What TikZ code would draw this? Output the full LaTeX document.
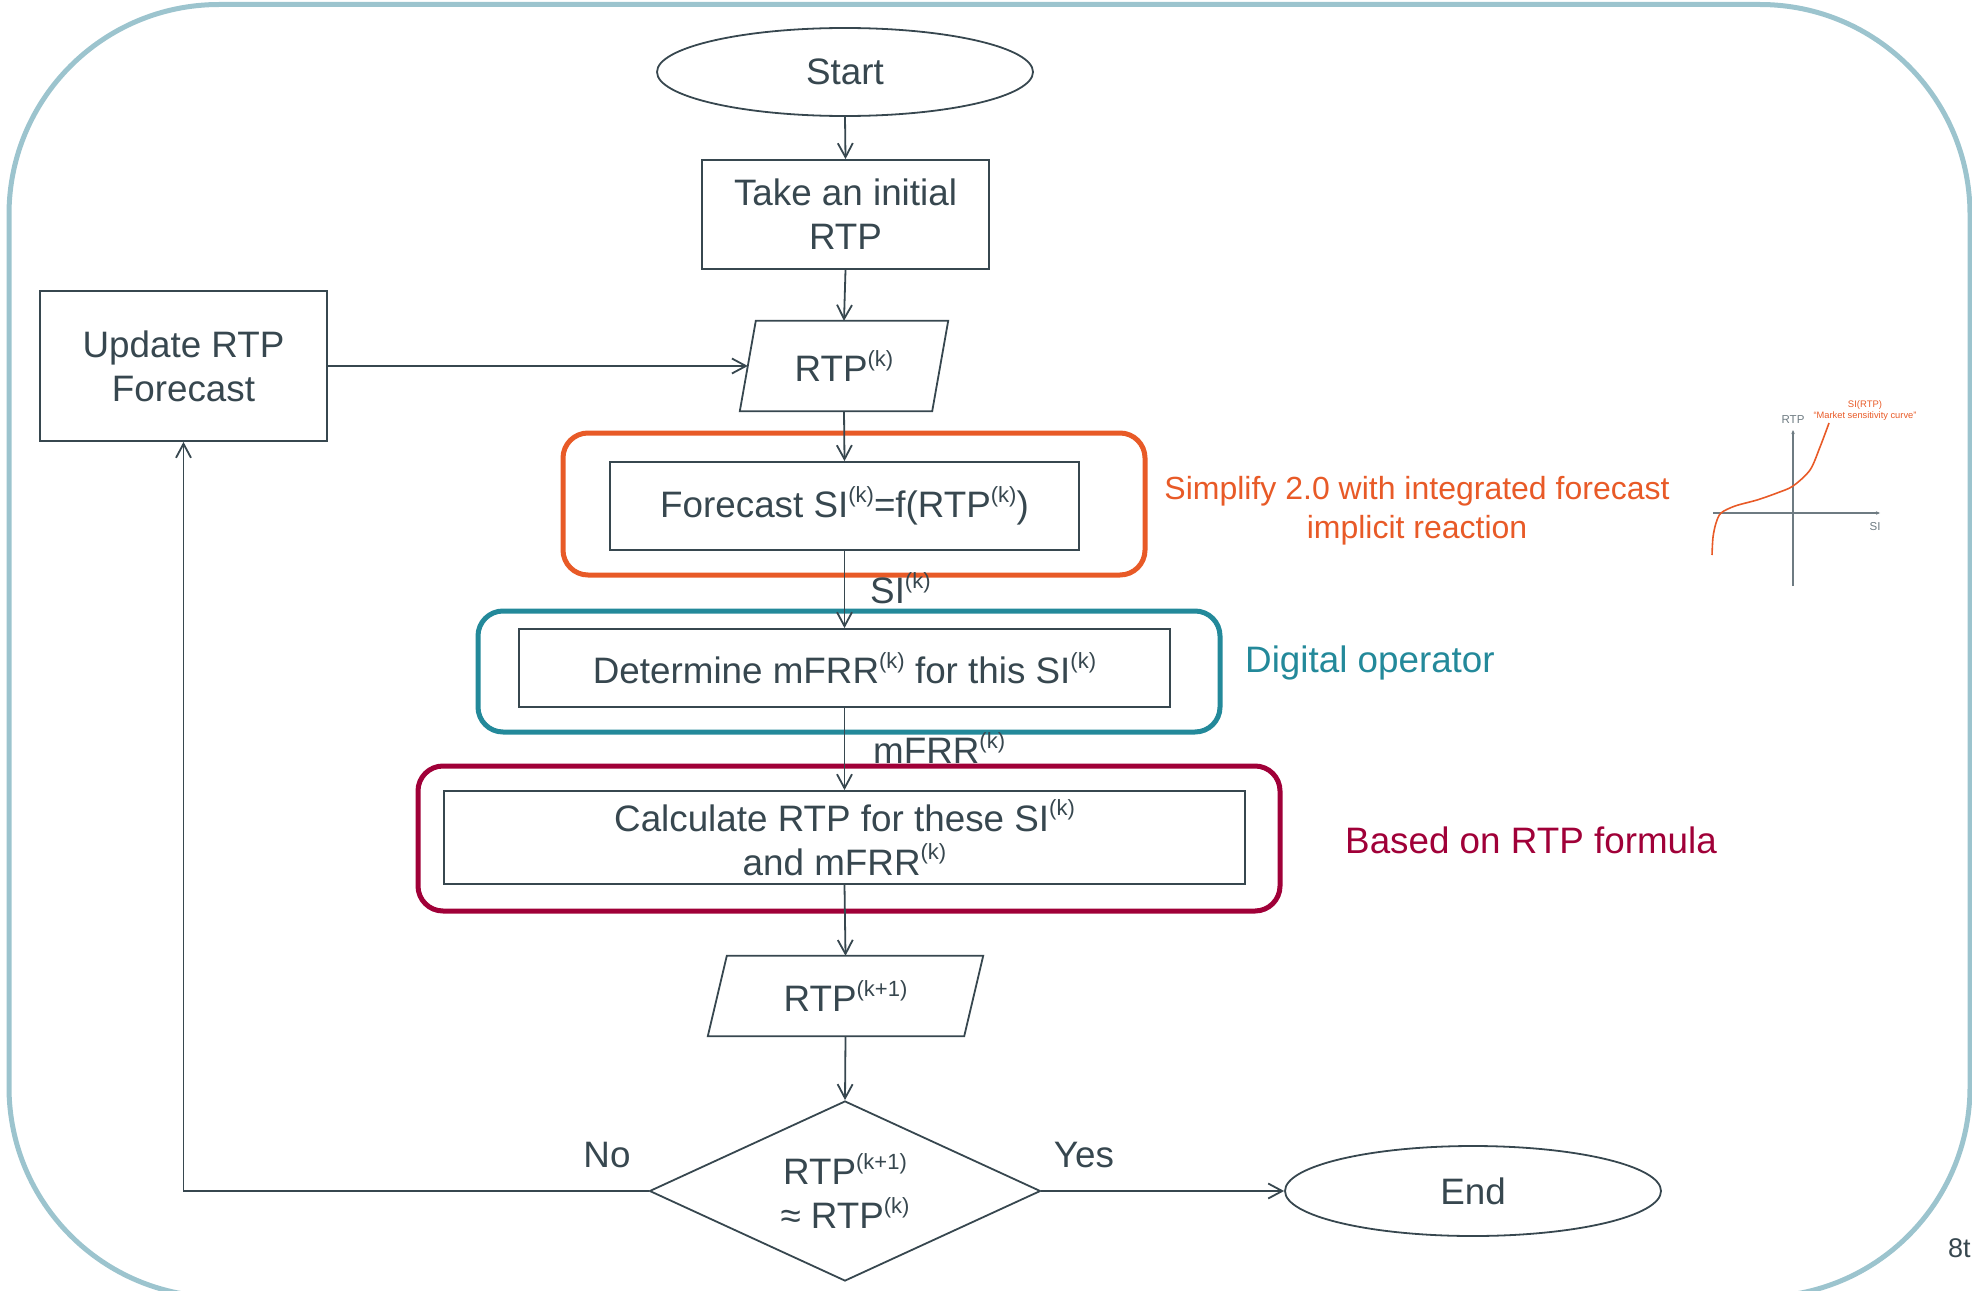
\documentclass[tikz,border=0pt]{standalone}
\usepackage{fontspec}
\setmainfont{Liberation Sans}
\usetikzlibrary{arrows.meta,shapes.geometric,calc}
\definecolor{ink}{HTML}{37474F}
\definecolor{orng}{HTML}{E85A27}
\definecolor{tealc}{HTML}{23899A}
\definecolor{maroonc}{HTML}{A00038}
\definecolor{outerc}{HTML}{9CC4CE}
\definecolor{axisc}{HTML}{6E7B82}
\newcommand\upk[1]{\raisebox{0.42em}{\fontsize{22}{22}\selectfont #1}}
\begin{document}
\begin{tikzpicture}[x=1pt,y=-1pt,
  every node/.style={text=ink, font=\fontsize{36.8}{44}\selectfont},
  box/.style={draw=ink, line width=1.8pt, rectangle, align=center, inner sep=0pt},
  term/.style={draw=ink, line width=1.8pt, ellipse, inner sep=0pt},
  ghost/.style={rectangle, inner sep=0pt},
  conn/.style={draw=ink, line width=1.8pt, -{Straight Barb[length=14pt,width=15pt]}},
  grp/.style={rectangle, rounded corners=25pt, line width=5pt, inner sep=0pt},
  para/.style={draw=ink, line width=1.8pt, line join=miter},
  lbl/.style={inner sep=0pt},
]
\useasboundingbox (0,0) rectangle (1972,1290);
% outer frame
\draw[outerc, line width=5pt, rounded corners=210pt] (9,4.5) rectangle (1970,1297);

% group frames
\node[grp, draw=orng, minimum width=582pt, minimum height=142pt] (gorange) at (854,504) {};
\node[grp, draw=tealc, minimum width=742pt, minimum height=121pt] (gteal) at (849,671.5) {};
\node[grp, draw=maroonc, minimum width=862pt, minimum height=145pt] (gmaroon) at (849,838.5) {};

% nodes
\node[term, minimum width=376pt, minimum height=88pt] (start) at (845,72) {Start};
\node[box, minimum width=287pt, minimum height=109pt] (take) at (845.5,214.5) {Take an initial\\RTP};
\node[ghost, minimum width=192pt, minimum height=90pt] (rtpk) at (844,366) {RTP\upk{(k)}};
\draw[para] ($(rtpk.north west)+(8,0)$) -- ($(rtpk.north east)+(8,0)$) -- ($(rtpk.south east)+(-8,0)$) -- ($(rtpk.south west)+(-8,0)$) -- cycle;
\node[box, minimum width=287pt, minimum height=150pt] (upd) at (183.5,366) {Update RTP\\Forecast};
\node[box, fill=white, minimum width=469pt, minimum height=88pt] (fc) at (844.5,506) {Forecast SI\upk{(k)}=f(RTP\upk{(k)})};
\node[box, fill=white, minimum width=651pt, minimum height=78pt] (det) at (844.5,668) {Determine mFRR\upk{(k)} for this SI\upk{(k)}};
\node[box, fill=white, minimum width=801pt, minimum height=93pt] (calc) at (844.5,837.5) {Calculate RTP for these SI\upk{(k)}\\and mFRR\upk{(k)}};
\node[ghost, minimum width=256pt, minimum height=80pt] (rtpk1) at (845.5,996) {RTP\upk{(k+1)}};
\draw[para] ($(rtpk1.north west)+(9.5,0)$) -- ($(rtpk1.north east)+(9.5,0)$) -- ($(rtpk1.south east)+(-9.5,0)$) -- ($(rtpk1.south west)+(-9.5,0)$) -- cycle;
\node[draw=ink, line width=1.8pt, diamond, aspect=2.17, inner sep=0pt, align=center, minimum width=391pt, minimum height=180pt] (dec) at (845,1191) {RTP\upk{(k+1)}\\{\char"2248} RTP\upk{(k)}};
\node[term, minimum width=376pt, minimum height=90pt] (endn) at (1473,1191) {End};

% connectors
\draw[conn] (start.south) -- (take.north);
\draw[conn] (take.south) -- (rtpk.north);
\draw[conn] (upd.east) -- (rtpk.west);
\draw[conn] (rtpk.south) -- (fc.north);
\draw[conn] (fc.south) -- (det.north);
\draw[conn] (det.south) -- (calc.north);
\draw[conn] (calc.south) -- (rtpk1.north);
\draw[conn] (rtpk1.south) -- (dec.north);
\draw[conn] (dec.east) -- (endn.west);
\draw[conn] (dec.west) -| (upd.south);

% connector labels
\node[lbl, anchor=west] (lsi) at (870,588) {SI\upk{(k)}};
\node[lbl, anchor=west] (lmfrr) at (873,748) {mFRR\upk{(k)}};
\node[lbl] (lno) at (607,1155) {No};
\node[lbl] (lyes) at (1084,1155) {Yes};

% annotations
\node[lbl, text=orng, align=center, font=\fontsize{32}{39}\selectfont] (nsimp) at (1417,511) {Simplify 2.0 with integrated forecast\\implicit reaction};
\node[lbl, text=tealc, anchor=west] (ndig) at (1245,663) {Digital operator};
\node[lbl, text=maroonc, anchor=west] (nbased) at (1345,840) {Based on RTP formula};
\node[lbl, anchor=west, font=\fontsize{27}{30}\selectfont] (npage) at (1948,1248) {8th};

% small market sensitivity chart
\draw[axisc, line width=1.3pt, -{Stealth[length=4pt,width=3.5pt]}] (1713,513) -- (1880,513);
\draw[axisc, line width=1.3pt, -{Stealth[length=4pt,width=3.5pt]}] (1793,586) -- (1793,430);
\draw[orng, line width=1.6pt] plot[smooth] coordinates {(1712,555) (1713,537) (1716,523) (1721,513) (1735,506) (1757,500) (1777,493) (1793,486) (1810,470) (1820,447) (1829,423)};
\node[lbl, text=axisc, font=\fontsize{11.5}{12}\selectfont] (crtp) at (1793,420) {RTP};
\node[lbl, text=axisc, font=\fontsize{11.5}{12}\selectfont] (csi) at (1875,527) {SI};
\node[lbl, text=orng, font=\fontsize{9.5}{10}\selectfont] (csirtp) at (1865,405) {SI(RTP)};
\node[lbl, text=orng, font=\fontsize{9.3}{10}\selectfont] (cmsc) at (1865,416) {“Market sensitivity curve”};
\end{tikzpicture}
\end{document}
